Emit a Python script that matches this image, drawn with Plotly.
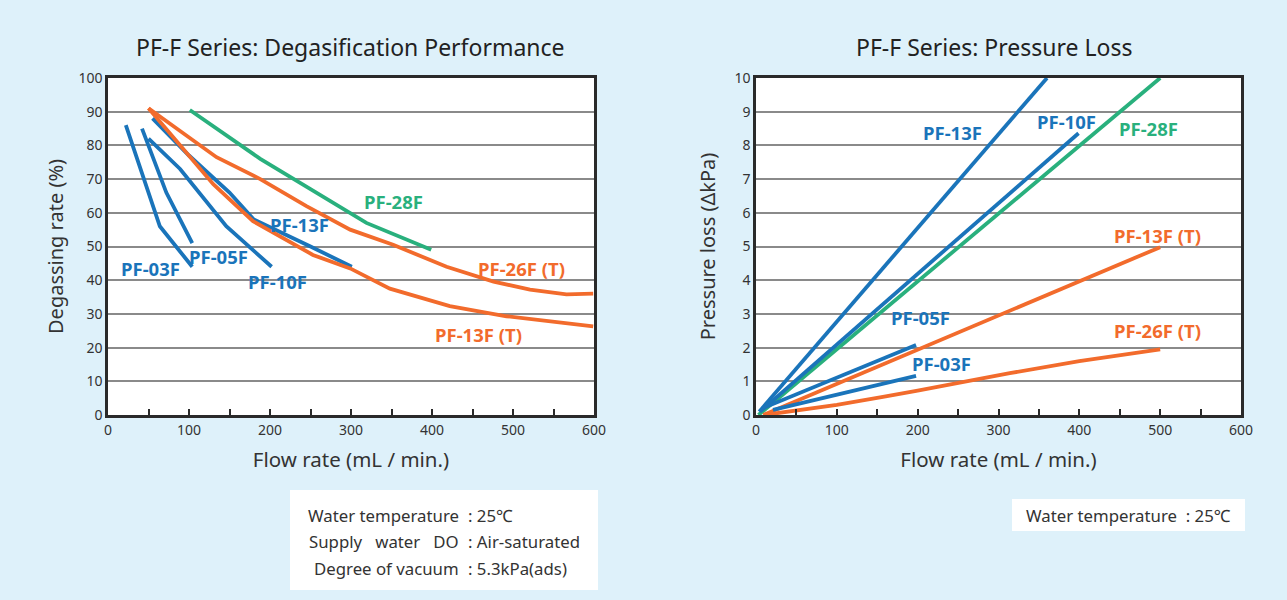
import plotly.graph_objects as go

# ---------------- Data: Degasification performance ----------------
deg_pf03f_x = [22, 64, 104]
deg_pf03f_y = [86, 56, 44]
deg_pf05f_x = [42, 72, 104]
deg_pf05f_y = [85, 66, 51]
deg_pf10f_x = [50, 89, 146, 202]
deg_pf10f_y = [82, 73, 56, 44]
deg_pf13f_x = [55, 100, 150, 180, 250, 301]
deg_pf13f_y = [88, 77, 66, 58, 50, 44]
deg_pf28f_x = [101, 188, 250, 319, 399]
deg_pf28f_y = [90.5, 76, 67, 57, 49]
deg_pf26ft_x = [50, 134, 188, 245, 299, 352, 418, 476, 521, 566, 599]
deg_pf26ft_y = [91, 76.5, 70, 62, 55, 50.5, 44, 39.6, 37.2, 35.8, 36]
deg_pf13ft_x = [50, 130, 179, 253, 299, 348, 422, 492, 599]
deg_pf13ft_y = [91, 68.5, 57.5, 47.5, 43.5, 37.5, 32.3, 29.3, 26.3]

# ---------------- Data: Pressure loss ----------------
pl_pf13f_x = [4, 360]
pl_pf13f_y = [0.1, 10]
pl_pf10f_x = [5, 399]
pl_pf10f_y = [0.1, 8.36]
pl_pf28f_x = [3, 500]
pl_pf28f_y = [0, 10]
pl_pf05f_x = [8, 198]
pl_pf05f_y = [0.2, 2.08]
pl_pf03f_x = [21, 198]
pl_pf03f_y = [0.15, 1.16]
pl_pf13ft_x = [9, 500]
pl_pf13ft_y = [0, 4.98]
pl_pf26ft_x = [10, 100, 157, 200, 314, 400, 500]
pl_pf26ft_y = [0, 0.3, 0.54, 0.72, 1.24, 1.6, 1.95]

BLUE = "#1a74ba"
ORANGE = "#f26b2c"
GREEN = "#29b07d"
FONT = "Noto Sans"
W, H = 1287, 600

fig = go.Figure()

def add(x, y, color, xa, ya):
    fig.add_trace(go.Scatter(x=x, y=y, mode="lines", xaxis=xa, yaxis=ya,
                             line=dict(color=color, width=3.8),
                             hoverinfo="skip", showlegend=False))

add(deg_pf03f_x, deg_pf03f_y, BLUE, "x", "y")
add(deg_pf05f_x, deg_pf05f_y, BLUE, "x", "y")
add(deg_pf10f_x, deg_pf10f_y, BLUE, "x", "y")
add(deg_pf28f_x, deg_pf28f_y, GREEN, "x", "y")
add(deg_pf26ft_x, deg_pf26ft_y, ORANGE, "x", "y")
add(deg_pf13f_x, deg_pf13f_y, BLUE, "x", "y")
add(deg_pf13ft_x, deg_pf13ft_y, ORANGE, "x", "y")

add(pl_pf28f_x, pl_pf28f_y, GREEN, "x2", "y2")
add(pl_pf13f_x, pl_pf13f_y, BLUE, "x2", "y2")
add(pl_pf10f_x, pl_pf10f_y, BLUE, "x2", "y2")
add(pl_pf13ft_x, pl_pf13ft_y, ORANGE, "x2", "y2")
add(pl_pf26ft_x, pl_pf26ft_y, ORANGE, "x2", "y2")
add(pl_pf05f_x, pl_pf05f_y, BLUE, "x2", "y2")
add(pl_pf03f_x, pl_pf03f_y, BLUE, "x2", "y2")

axis_common = dict(
    showline=True, linecolor="#2a2a2a", linewidth=2.5, mirror=True,
    showgrid=True, gridcolor="#8a8a8a", gridwidth=2,
    zeroline=False, automargin=False,
    tickfont=dict(family=FONT, size=14, color="#333"),
)

xcommon = dict(axis_common, range=[0, 600], dtick=100, ticks="inside", ticklen=6,
               tickcolor="#2a2a2a", tickwidth=2, showgrid=False,
               minor=dict(dtick=50, ticks="inside", ticklen=6, tickcolor="#2a2a2a", tickwidth=2),
               title=dict(text="Flow rate (mL / min.)", standoff=16,
                          font=dict(family=FONT, size=20.5, color="#333")))

fig.update_layout(
    width=W, height=H,
    margin=dict(l=0, r=0, t=0, b=0),
    paper_bgcolor="#def1fa", plot_bgcolor="white",
    xaxis=dict(xcommon, domain=[108/W, 594/W], anchor="y"),
    yaxis=dict(axis_common, range=[0, 100], dtick=10, domain=[185/H, 522/H], anchor="x",
               ticks="", title=dict(text="Degassing rate (%)", standoff=10,
                                    font=dict(family=FONT, size=20, color="#333"))),
    xaxis2=dict(xcommon, domain=[756/W, 1241/W], anchor="y2"),
    yaxis2=dict(axis_common, range=[0, 10], dtick=1, domain=[185/H, 522/H], anchor="x2",
                ticks="", title=dict(text="Pressure loss (\u0394kPa)", standoff=14,
                                     font=dict(family=FONT, size=20, color="#333"))),
)

ann = []
def lab(text, x, y, color, xr, yr):
    ann.append(dict(text=text, x=x, y=y, xref=xr, yref=yr, showarrow=False,
                    xanchor="center", yanchor="middle",
                    font=dict(family=FONT, size=18.5, color=color, weight="bold")))

lab("PF-28F", 352, 63.5, GREEN, "x", "y")
lab("PF-13F", 237, 56.5, BLUE, "x", "y")
lab("PF-05F", 137, 47, BLUE, "x", "y")
lab("PF-03F", 52, 43.5, BLUE, "x", "y")
lab("PF-10F", 209, 39.5, BLUE, "x", "y")
lab("PF-26F (T)", 510, 43.6, ORANGE, "x", "y")
lab("PF-13F (T)", 457, 24, ORANGE, "x", "y")

lab("PF-13F", 243, 8.37, BLUE, "x2", "y2")
lab("PF-10F", 384, 8.7, BLUE, "x2", "y2")
lab("PF-28F", 486, 8.5, GREEN, "x2", "y2")
lab("PF-05F", 204, 2.88, BLUE, "x2", "y2")
lab("PF-03F", 230, 1.54, BLUE, "x2", "y2")
lab("PF-13F (T)", 497, 5.34, ORANGE, "x2", "y2")
lab("PF-26F (T)", 497, 2.52, ORANGE, "x2", "y2")

def paper_text(text, px, py, size, anchor="center", color="#333"):
    ann.append(dict(text=text, x=px/W, y=1-py/H, xref="paper", yref="paper",
                    xanchor=anchor, yanchor="middle", showarrow=False,
                    font=dict(family=FONT, size=size, color=color)))

# titles
paper_text("PF-F Series: Degasification Performance", 350, 47, 23, color="#222")
paper_text("PF-F Series: Pressure Loss", 995, 47, 23, color="#222")

# note boxes
shapes = [
    dict(type="rect", xref="paper", yref="paper", x0=290/W, x1=598/W,
         y0=1-590/H, y1=1-490/H, fillcolor="white", line=dict(width=0), layer="below"),
    dict(type="rect", xref="paper", yref="paper", x0=1012/W, x1=1245/W,
         y0=1-531/H, y1=1-499/H, fillcolor="white", line=dict(width=0), layer="below"),
]

note_labels = ["Water temperature", "Supply\u00a0\u00a0 water\u00a0\u00a0 DO", "Degree of vacuum"]
note_values = [": 25\u2103", ": Air-saturated", ": 5.3kPa(ads)"]
note_ys = [515, 541, 568]
for lt, vt, py in zip(note_labels, note_values, note_ys):
    paper_text(lt, 461, py, 16.8, anchor="right")
    paper_text(vt, 466, py, 16.8, anchor="left")
paper_text("Water temperature\u00a0 : 25\u2103", 1128, 515, 16.8)

fig.update_layout(annotations=ann, shapes=shapes)
fig.write_html("out.html", config={"displayModeBar": False},
               post_script="document.body.style.margin='0';")
